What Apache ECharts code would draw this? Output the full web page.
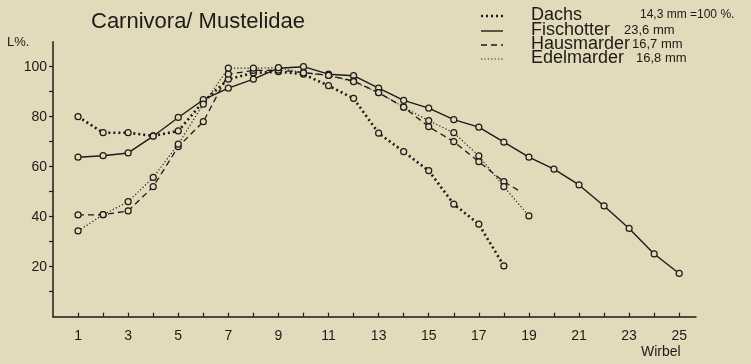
<!DOCTYPE html>
<html>
<head>
<meta charset="utf-8">
<script src="https://cdn.jsdelivr.net/npm/echarts@6/dist/echarts.min.js"></script>
<style>
  html, body { margin: 0; padding: 0; background: #e2dabb; }
  #chart { width: 751px; height: 364px; }
</style>
</head>
<body>
<div id="chart"></div>
<script>
// Relative vertebral length (L %) per vertebra number, Mustelidae
const dachs      = [80, 73.6, 73.6, 72.3, 74.3, 86, 95, 97.5, 98, 97, 92.4, 87.3, 73.4, 66, 58.4, 45, 37, 20.3];
const fischotter = [63.8, 64.4, 65.5, 72.2, 79.7, 86.8, 91.4, 95, 99.4, 100, 97, 96.4, 91.4, 86.5, 83.4, 78.8, 75.8, 69.8, 63.8, 59, 52.7, 44.3, 35.3, 25.1, 17.3];
const hausmarder = [40.7, 40.8, 42.3, 52, 68, 78, 97, 98.5, 98.6, 97.7, 96.5, 94.3, 89.6, 83.8, 76, 70, 62, 54];
const hausmarderTail = [18.6, 50.4];
const edelmarder = [34.3, 40.8, 46, 55.7, 69, 85, 99.4, 99.4, 99.6, 97.5, 96.5, 94, 89.6, 83.8, 78.4, 73.6, 64.3, 52, 40.3];

const xTicks  = [1,2,3,4,5,6,7,8,9,10,11,12,13,14,15,16,17,18,19,20,21,22,23,24,25];
const xLabels = [1,3,5,7,9,11,13,15,17,19,21,23,25];
const yTicks  = [10,20,30,40,50,60,70,80,90,100];
const yLabels = [20,40,60,80,100];

const legendNames = ['Dachs', 'Fischotter', 'Hausmarder', 'Edelmarder'];
const legendUnits = ['14,3 mm =100 %.', '23,6 mm', '16,7 mm', '16,8 mm'];

const ink = '#1c1b18';
const bg = '#e2dabb';

const styles = {
  Dachs:      { type: [2, 3], width: 2.6, cap: 'butt' },
  Fischotter: { type: 'solid', width: 1.4 },
  Hausmarder: { type: [6, 4], width: 1.3 },
  Edelmarder: { type: [1.2, 2.2], width: 1.2 }
};

function pts(arr) { return arr.map((v, i) => [i + 1, v]); }

function lineSeries(name, data) {
  return {
    name: name,
    type: 'line',
    data: data,
    symbol: 'circle',
    symbolSize: 6,
    showAllSymbol: true,
    itemStyle: { color: bg, borderColor: ink, borderWidth: 1.2 },
    lineStyle: Object.assign({ color: ink }, styles[name]),
    animation: false,
    z: 3
  };
}

const hausData = pts(hausmarder).concat([{ value: hausmarderTail, symbol: 'none' }]);

// legend drawn as graphic: sample line + name + reference length
const legendRowY = [16, 31, 45, 59];
const legendUnitX = [640, 624, 632, 636];
const legendGraphics = [];
legendNames.forEach((n, i) => {
  const st = styles[n];
  legendGraphics.push({
    type: 'line',
    shape: { x1: 481, y1: legendRowY[i], x2: 503, y2: legendRowY[i] },
    style: { stroke: ink, lineWidth: st.width, lineDash: st.type === 'solid' ? null : st.type, lineCap: 'butt' }
  });
  legendGraphics.push({
    type: 'text', left: 531, top: legendRowY[i] - 10,
    style: { text: n, font: '18px "Liberation Sans", Arial, sans-serif', fill: ink }
  });
  legendGraphics.push({
    type: 'text', left: legendUnitX[i], top: legendRowY[i] - (i === 0 ? 7 : 7),
    style: { text: legendUnits[i], font: (i === 0 ? '12px' : '13px') + ' "Liberation Sans", Arial, sans-serif', fill: ink }
  });
});

const chart = echarts.init(document.getElementById('chart'), null, { renderer: 'canvas' });
chart.setOption({
  backgroundColor: bg,
  animation: false,
  title: {
    text: 'Carnivora/ Mustelidae',
    left: 86, top: 6,
    textStyle: { fontFamily: '"Liberation Sans", Arial, sans-serif', fontSize: 22, fontWeight: 'normal', color: ink }
  },
  grid: { left: 53, right: 55, top: 41.7, bottom: 47.3 },
  xAxis: {
    type: 'value', min: 0, max: 25.67,
    axisLine: { show: true, onZero: false, lineStyle: { color: ink, width: 1.5 } },
    axisTick: { show: true, inside: true, length: 4, customValues: xTicks, lineStyle: { color: ink, width: 1.2 } },
    axisLabel: { customValues: xLabels, margin: 12, color: ink, fontSize: 14, fontFamily: '"Liberation Sans", Arial, sans-serif' },
    splitLine: { show: false }
  },
  yAxis: {
    type: 'value', min: 0, max: 110,
    axisLine: { show: true, lineStyle: { color: ink, width: 1.5 } },
    axisTick: { show: true, inside: false, length: 4, customValues: yTicks, lineStyle: { color: ink, width: 1.2 } },
    axisLabel: { customValues: yLabels, margin: 6, color: ink, fontSize: 14, fontFamily: '"Liberation Sans", Arial, sans-serif' },
    splitLine: { show: false }
  },
  graphic: legendGraphics.concat([
    { type: 'text', left: 7, top: 36, style: { text: 'L%.', font: '13px "Liberation Sans", Arial, sans-serif', fill: ink } },
    { type: 'text', left: 641, top: 345, style: { text: 'Wirbel', font: '14px "Liberation Sans", Arial, sans-serif', fill: ink } }
  ]),
  series: [
    lineSeries('Dachs', pts(dachs)),
    lineSeries('Fischotter', pts(fischotter)),
    lineSeries('Hausmarder', hausData),
    lineSeries('Edelmarder', pts(edelmarder))
  ]
});
</script>
</body>
</html>
